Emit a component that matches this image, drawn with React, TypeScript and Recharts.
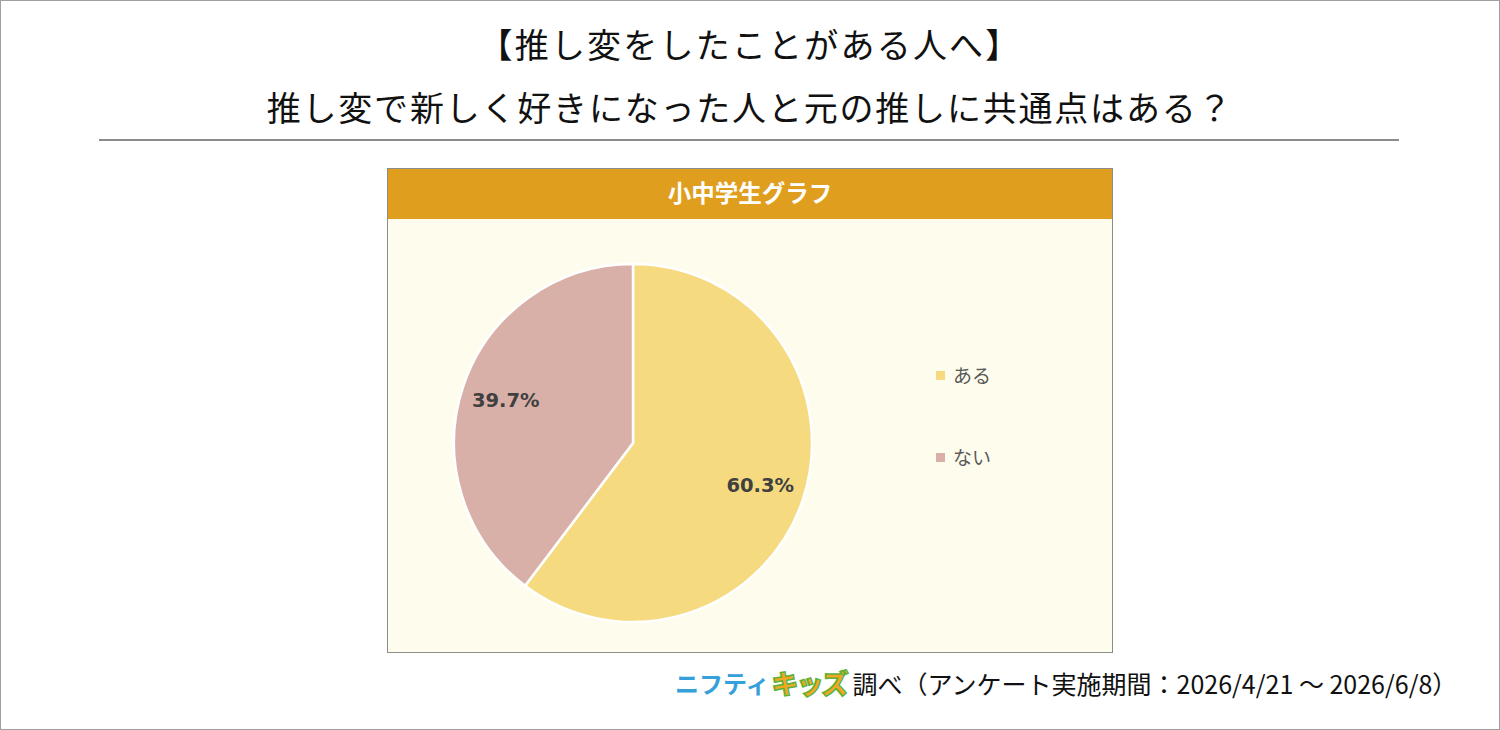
import React from 'react';
import { PieChart, Pie, Cell } from 'recharts';

const categories = ['ある', 'ない'];
const values = [60.3, 39.7];
const colors = ['#F5DA80', '#D9B0A8'];

const titleLine1 = '【推し変をしたことがある人へ】';
const titleLine2 = '推し変で新しく好きになった人と元の推しに共通点はある？';
const panelTitle = '小中学生グラフ';
const logoBlue = 'ニフティ';
const logoKids = 'キッズ';
const sourceText = '調べ（アンケート実施期間：2026/4/21 〜 2026/6/8）';

const pieData = categories.map((name, i) => ({ name, value: values[i] }));

const RAD = Math.PI / 180;

const renderLabel = (props: any) => {
  const { cx, cy, midAngle, outerRadius, value } = props;
  const r = outerRadius * 0.75;
  const x = cx + r * Math.cos(-midAngle * RAD);
  const y = cy + r * Math.sin(-midAngle * RAD);
  return (
    <text x={x} y={y} textAnchor="middle" dominantBaseline="central" fill="#404040"
      style={{ fontFamily: '"DejaVu Sans", sans-serif', fontWeight: 'bold', fontSize: 19.5 }}>
      {value.toFixed(1)}%
    </text>
  );
};

export default function App() {
  return (
    <div style={{ position: 'absolute', left: 0, top: 0, width: 1498, height: 728, border: '1px solid #A0A0A0', background: '#fff', fontFamily: '"Noto Sans CJK JP", sans-serif' }}>
      <div style={{ position: 'absolute', top: 18, width: '100%', textAlign: 'center', fontSize: 34, color: '#111', letterSpacing: 2.2, lineHeight: '50px' }}>{titleLine1}</div>
      <div style={{ position: 'absolute', top: 81, width: '100%', textAlign: 'center', fontSize: 34, color: '#111', letterSpacing: 1.8, lineHeight: '50px' }}>{titleLine2}</div>
      <div style={{ position: 'absolute', top: 138, left: 98, width: 1300, height: 2, background: '#8C8C8C' }} />

      <div style={{ position: 'absolute', left: 386, top: 167, width: 724, height: 483, border: '1px solid #8C8C8C', background: '#FEFCEC' }}>
        <div style={{ height: 50, background: '#E09E1E', color: '#fff', fontWeight: 'bold', fontSize: 23.5, textAlign: 'center', lineHeight: '46px' }}>{panelTitle}</div>
        <div style={{ position: 'relative' }}>
          <PieChart width={724} height={433} margin={{ top: 0, right: 0, bottom: 0, left: 0 }}>
            <Pie data={pieData} dataKey="value" nameKey="name" cx={245} cy={224} outerRadius={179}
              startAngle={90} endAngle={-270} stroke="#fff" strokeWidth={2.5}
              label={renderLabel} labelLine={false} isAnimationActive={false}>
              {pieData.map((d, i) => <Cell key={d.name} fill={colors[i]} />)}
            </Pie>
          </PieChart>
          <div style={{ position: 'absolute', left: 548, top: 114 }}>
            {categories.map((c, i) => (
              <div key={c} style={{ display: 'flex', alignItems: 'center', height: 82 }}>
                <span style={{ width: 9, height: 9, background: colors[i], marginRight: 8, marginTop: 3 }} />
                <span style={{ fontSize: 19, color: '#595959' }}>{c}</span>
              </div>
            ))}
          </div>
        </div>
      </div>

      <div style={{ position: 'absolute', left: 674, top: 662, whiteSpace: 'nowrap', display: 'flex', alignItems: 'center' }}>
        <span style={{ fontSize: 24, fontWeight: 'bold', color: '#35A0DA' }}>{logoBlue}</span>
        <span style={{ fontSize: 27, fontWeight: 900, color: '#F5A623', WebkitTextStroke: '1.5px #5BB33B', marginLeft: 2, letterSpacing: -2 }}>{logoKids}</span>
        <span style={{ fontSize: 25, color: '#111', marginLeft: 6 }}>{sourceText}</span>
      </div>
    </div>
  );
}
